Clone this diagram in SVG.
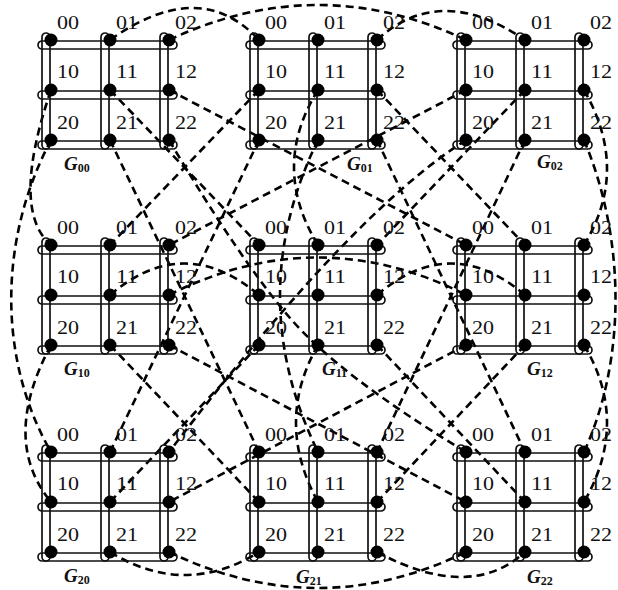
<svg xmlns="http://www.w3.org/2000/svg" xmlns:xlink="http://www.w3.org/1999/xlink" width="618" height="590" viewBox="0 0 618 590">
<style>
.cap{fill:none;stroke:#111;stroke-width:1.7}
.dot{fill:#000}
.lbl{font-family:"Liberation Serif","Times New Roman",serif;font-size:18px;fill:#111}
.gl{font-family:"Liberation Serif","Times New Roman",serif;font-size:19px;font-weight:bold;font-style:italic;fill:#111}
.sub{font-size:12px;font-style:normal}
.link{fill:none;stroke:#000;stroke-width:2.6;stroke-dasharray:8 5}
</style>
<defs>
<g id="mod">
<rect class="cap" x="-13" y="1" width="139" height="8" rx="4"/>
<rect class="cap" x="-13" y="51" width="139" height="8" rx="4"/>
<rect class="cap" x="-13" y="101" width="139" height="8" rx="4"/>
<rect class="cap" x="-9" y="-7" width="8" height="116" rx="4"/>
<rect class="cap" x="50" y="-7" width="8" height="116" rx="4"/>
<rect class="cap" x="109" y="-7" width="8" height="116" rx="4"/>
<circle class="dot" cx="0" cy="0" r="6.5"/><circle class="dot" cx="59" cy="0" r="6.5"/><circle class="dot" cx="118" cy="0" r="6.5"/>
<circle class="dot" cx="0" cy="50" r="6.5"/><circle class="dot" cx="59" cy="50" r="6.5"/><circle class="dot" cx="118" cy="50" r="6.5"/>
<circle class="dot" cx="0" cy="100" r="6.5"/><circle class="dot" cx="59" cy="100" r="6.5"/><circle class="dot" cx="118" cy="100" r="6.5"/>
<text class="lbl" x="6" y="-11" textLength="22" lengthAdjust="spacingAndGlyphs">00</text>
<text class="lbl" x="65" y="-11" textLength="22" lengthAdjust="spacingAndGlyphs">01</text>
<text class="lbl" x="124" y="-11" textLength="22" lengthAdjust="spacingAndGlyphs">02</text>
<text class="lbl" x="6" y="38" textLength="22" lengthAdjust="spacingAndGlyphs">10</text>
<text class="lbl" x="65" y="38" textLength="22" lengthAdjust="spacingAndGlyphs">11</text>
<text class="lbl" x="124" y="38" textLength="22" lengthAdjust="spacingAndGlyphs">12</text>
<text class="lbl" x="6" y="89" textLength="22" lengthAdjust="spacingAndGlyphs">20</text>
<text class="lbl" x="65" y="89" textLength="22" lengthAdjust="spacingAndGlyphs">21</text>
<text class="lbl" x="124" y="89" textLength="22" lengthAdjust="spacingAndGlyphs">22</text>
</g>
</defs>
<rect width="618" height="590" fill="#fff"/>
<g id="connectors">
<path class="link" d="M110,40 Q200,-24 259,40"/>
<path class="link" d="M169,40 Q318,-30 466,40"/>
<path class="link" d="M51,90 Q10,210 51,245"/>
<path class="link" d="M110,90 L259,245"/>
<path class="link" d="M169,90 L466,245"/>
<path class="link" d="M51,140 C-2,240 -2,360 51,452"/>
<path class="link" d="M110,140 L259,452"/>
<path class="link" d="M169,140 Q240,260 290,318 T466,452"/>
<path class="link" d="M377,40 Q440,-18 525,40"/>
<path class="link" d="M259,90 L110,245"/>
<path class="link" d="M318,90 Q270,167 318,245"/>
<path class="link" d="M377,90 L525,245"/>
<path class="link" d="M259,140 L110,452"/>
<path class="link" d="M318,140 Q242,296 318,452"/>
<path class="link" d="M377,140 L525,452"/>
<path class="link" d="M466,90 L169,245"/>
<path class="link" d="M525,90 L377,245"/>
<path class="link" d="M584,90 Q630,170 584,245"/>
<path class="link" d="M466,140 C356,210 230,373 169,452"/>
<path class="link" d="M525,140 L377,452"/>
<path class="link" d="M584,140 C626,240 626,360 584,452"/>
<path class="link" d="M110,295 Q184,232 259,295"/>
<path class="link" d="M169,295 Q318,220 466,295"/>
<path class="link" d="M51,345 Q0,440 51,502"/>
<path class="link" d="M110,345 L259,502"/>
<path class="link" d="M169,345 L466,502"/>
<path class="link" d="M377,295 Q451,232 525,295"/>
<path class="link" d="M259,345 L110,502"/>
<path class="link" d="M318,345 Q274,422 318,502"/>
<path class="link" d="M377,345 L525,502"/>
<path class="link" d="M466,345 L169,502"/>
<path class="link" d="M525,345 L377,502"/>
<path class="link" d="M584,345 Q630,422 584,502"/>
<path class="link" d="M110,552 Q185,598 259,552"/>
<path class="link" d="M169,552 Q318,624 466,552"/>
<path class="link" d="M377,552 Q470,602 525,552"/>
</g>
<g id="G00"><use xlink:href="#mod" x="51" y="40"/><text class="gl" x="64" y="170">G<tspan class="sub" dy="2">00</tspan></text></g>
<g id="G01"><use xlink:href="#mod" x="259" y="40"/><text class="gl" x="347" y="170">G<tspan class="sub" dy="2">01</tspan></text></g>
<g id="G02"><use xlink:href="#mod" x="466" y="40"/><text class="gl" x="537" y="168">G<tspan class="sub" dy="2">02</tspan></text></g>
<g id="G10"><use xlink:href="#mod" x="51" y="245"/><text class="gl" x="64" y="375">G<tspan class="sub" dy="2">10</tspan></text></g>
<g id="G11"><use xlink:href="#mod" x="259" y="245"/><text class="gl" x="322" y="375">G<tspan class="sub" dy="2">11</tspan></text></g>
<g id="G12"><use xlink:href="#mod" x="466" y="245"/><text class="gl" x="527" y="375">G<tspan class="sub" dy="2">12</tspan></text></g>
<g id="G20"><use xlink:href="#mod" x="51" y="452"/><text class="gl" x="64" y="582">G<tspan class="sub" dy="2">20</tspan></text></g>
<g id="G21"><use xlink:href="#mod" x="259" y="452"/><text class="gl" x="296" y="583">G<tspan class="sub" dy="2">21</tspan></text></g>
<g id="G22"><use xlink:href="#mod" x="466" y="452"/><text class="gl" x="527" y="583">G<tspan class="sub" dy="2">22</tspan></text></g>
</svg>
